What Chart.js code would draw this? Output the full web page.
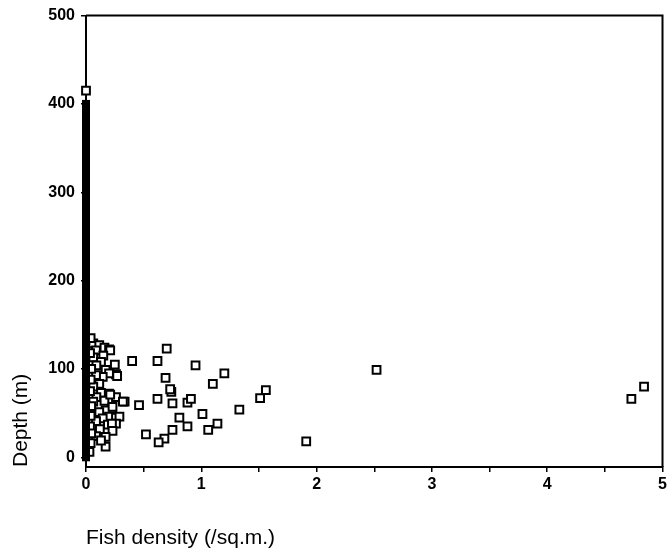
<!DOCTYPE html>
<html>
<head>
<meta charset="utf-8">
<script src="https://cdn.jsdelivr.net/npm/chart.js@4/dist/chart.umd.min.js"></script>
<style>
  body { margin: 0; background: #fff; }
  #wrap { width: 670px; height: 553px; }
</style>
</head>
<body>
<div id="wrap"><canvas id="fishChart" width="670" height="553"></canvas></div>
<script>
// tick values
const xTicks = [0, 0.5, 1, 1.5, 2, 2.5, 3, 3.5, 4, 4.5, 5];
const yTicks = [0, 100, 200, 300, 400, 500];

// samples with zero density, stacked along the axis
const zeroDepth = [0, 8, 16, 24, 32, 40, 48, 56, 64, 72, 80, 88, 96, 104, 112, 120, 128,
    136, 144, 152, 160, 168, 176, 184, 192, 200, 208, 216, 224, 232, 240, 248, 256, 264,
    272, 280, 288, 296, 304, 312, 320, 328, 336, 344, 352, 360, 368, 376, 384, 392, 400];

// samples with fish (density /sq.m., depth m)
const density = [0.70, 0.40, 0.62, 0.95, 1.20, 0.69, 1.10, 0.74, 0.73, 0.62, 0.75, 0.88,
    0.91, 0.46, 1.33, 1.01, 0.81, 0.88, 1.14, 1.06, 0.75, 0.52, 0.68, 0.63, 1.51, 1.56,
    1.91, 2.52, 4.73, 4.84,
    0.063, 0.115, 0.16, 0.20, 0.087, 0.21, 0.063, 0.15, 0.25, 0.13, 0.09, 0.17, 0.26,
    0.20, 0.145, 0.087, 0.27, 0.115, 0.063, 0.20, 0.26, 0.335, 0.13, 0.09, 0.16, 0.063,
    0.21, 0.32, 0.225, 0.17, 0.115, 0.23, 0.20, 0.26, 0.29, 0.145, 0.087, 0.26, 0.19,
    0.225, 0.12, 0.23, 0.17, 0.087, 0.17, 0.13,
    0.04, 0.035, 0.045, 0.04, 0.035, 0.045, 0.04, 0.035, 0.045, 0.04, 0.03, 0];
const depth = [123, 109, 109, 104, 95, 90, 83, 74, 77, 66, 61, 62,
    66, 59, 54, 49, 45, 35, 38, 31, 31, 26, 21, 17, 67, 76,
    18, 99, 66, 80,
    129, 127, 124, 122, 121, 121, 113, 115, 105, 108, 104, 99, 94,
    95, 91, 93, 92, 83, 80, 72, 68, 63, 73, 68, 64, 63,
    71, 63, 55, 53, 51, 57, 46, 45, 46, 44, 41, 38, 37,
    38, 32, 30, 23, 24, 12, 19,
    135, 118, 100, 88, 75, 58, 47, 35, 27, 16, 6, 415];

const fishPoints = density.map((d, i) => ({ x: d, y: depth[i] }));
const zeroPoints = zeroDepth.map(d => ({ x: 0, y: d }));

// top and right edges of the frame
const frameBox = {
    id: 'frameBox',
    beforeDatasetsDraw(chart) {
        const a = chart.chartArea;
        const ctx = chart.ctx;
        ctx.save();
        ctx.strokeStyle = '#000';
        ctx.lineWidth = 2;
        ctx.beginPath();
        ctx.moveTo(a.left, a.top);
        ctx.lineTo(a.right, a.top);
        ctx.lineTo(a.right, a.bottom);
        ctx.stroke();
        ctx.restore();
    }
};

Chart.defaults.color = '#000';
Chart.defaults.font.family = '"Liberation Sans", Arial, sans-serif';

const ctx = document.getElementById('fishChart').getContext('2d');
new Chart(ctx, {
    type: 'scatter',
    data: {
        datasets: [
            {
                label: 'zero',
                data: zeroPoints,
                pointStyle: 'rect',
                pointRadius: 5.7,
                borderWidth: 0,
                backgroundColor: '#000',
                clip: false
            },
            {
                label: 'fish',
                data: fishPoints,
                pointStyle: 'rect',
                pointRadius: 5.5,
                borderWidth: 2,
                borderColor: '#000',
                backgroundColor: '#fff',
                clip: false
            }
        ]
    },
    options: {
        responsive: false,
        animation: false,
        layout: { padding: { left: 0, right: 7, top: 15, bottom: 0 } },
        plugins: {
            legend: { display: false },
            tooltip: { enabled: false }
        },
        scales: {
            x: {
                type: 'linear',
                min: 0,
                max: 5,
                afterBuildTicks: s => { s.ticks = xTicks.map(v => ({ value: v })); },
                afterFit: s => { s.height = 86; },
                ticks: {
                    autoSkip: false,
                    maxRotation: 0,
                    padding: 3,
                    font: { size: 16, weight: 'bold' },
                    callback: v => Number.isInteger(v) ? String(v) : ''
                },
                grid: { drawOnChartArea: false, tickLength: 5, color: '#000', lineWidth: 1.5 },
                border: { color: '#000', width: 2 },
                title: {
                    display: true,
                    text: 'Fish density (/sq.m.)',
                    align: 'start',
                    font: { size: 21 },
                    padding: { top: 0, bottom: 2 }
                }
            },
            y: {
                type: 'linear',
                min: -11,
                max: 500,
                afterBuildTicks: s => { s.ticks = yTicks.map(v => ({ value: v })); },
                afterFit: s => { s.width = 86; },
                ticks: {
                    padding: 6,
                    font: { size: 16, weight: 'bold' }
                },
                grid: { drawOnChartArea: false, tickLength: 5, color: '#000', lineWidth: 1.5 },
                border: { color: '#000', width: 2 },
                title: {
                    display: true,
                    text: 'Depth (m)',
                    align: 'start',
                    font: { size: 21 },
                    padding: { top: 9, bottom: 0 }
                }
            }
        }
    },
    plugins: [frameBox]
});
</script>
</body>
</html>
